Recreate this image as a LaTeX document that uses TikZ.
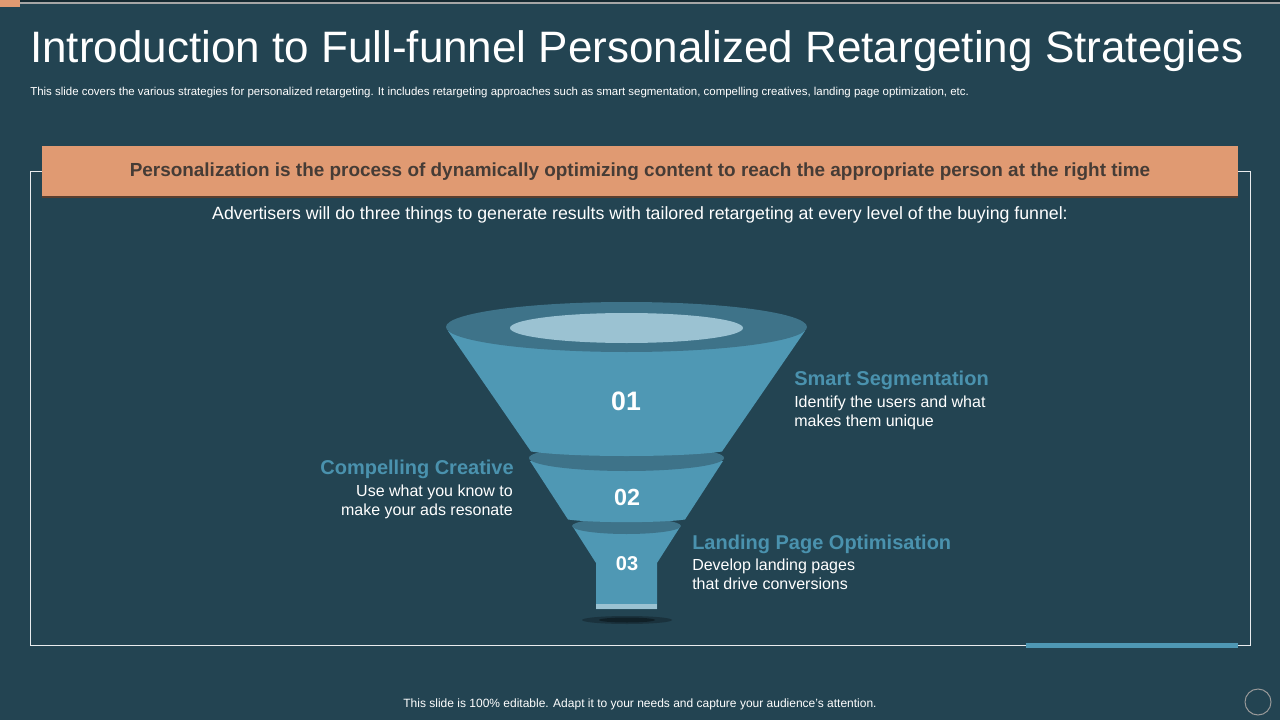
\documentclass[tikz,border=0pt]{standalone}
\usepackage{fontspec}
\setmainfont{Liberation Sans}
\definecolor{bg}{HTML}{234452}
\definecolor{body}{HTML}{4F98B4}
\definecolor{ring}{HTML}{3E7389}
\definecolor{pale}{HTML}{9BC2D2}
\definecolor{orange}{HTML}{E09A72}
\definecolor{bannertext}{HTML}{463C36}
\definecolor{heading}{HTML}{4A92AE}
\tikzset{
  txt/.style={inner sep=0pt,text=white,font=\fontsize{#1}{#1}\selectfont},
  num/.style={inner sep=0pt,text=white,font=\fontsize{#1}{#1}\selectfont\bfseries},
  head/.style={inner sep=0pt,text=heading,font=\fontsize{15}{15}\selectfont\bfseries},
  desc/.style={inner sep=0pt,text=white,font=\fontsize{12}{14.2}\selectfont,align=#1},
}
\begin{document}
\begin{tikzpicture}[x=0.75pt,y=-0.75pt]
\useasboundingbox (0,0) rectangle (1280,720);
\fill[bg] (0,0) rectangle (1280,720);
% top decoration
\fill[black!40!bg] (20,0) rectangle (1280,2.5);
\fill[gray!70!white] (20,2.5) rectangle (1280,4.5);
\fill[orange] (0,0) rectangle (20,7);
% frame
\draw[white!90!bg,line width=0.75pt] (30,172) rectangle (1250,645);
\fill[body] (1026,643) rectangle (1238,648);
% banner
\fill[black!60!orange] (42,146) rectangle (1238,198);
\fill[orange] (42,146) rectangle (1238,196.5);
% title and text
\node[txt=33,anchor=west] (title) at (30,51) {Introduction to Full-funnel Personalized Retargeting Strategies};
\node[txt=8.6,anchor=west] (sub) at (30,92.5) {This slide covers the various strategies for personalized retargeting. It includes retargeting approaches such as smart segmentation, compelling creatives, landing page optimization, etc.};
\node[inner sep=0pt,text=bannertext,font=\fontsize{14.2}{14.2}\selectfont\bfseries] (banner) at (640,172) {Personalization is the process of dynamically optimizing content to reach the appropriate person at the right time};
\node[txt=13.3] (lead) at (640,215) {Advertisers will do three things to generate results with tailored retargeting at every level of the buying funnel:};
% funnel
\fill[black,opacity=.25] (627,620) ellipse (45 and 4);
\fill[black,opacity=.35] (627,620) ellipse (28 and 2.5);
\fill[body] (573,527) -- (596,563) -- (596,609) -- (657,609) -- (657,563) -- (680,527) -- cycle;
\fill[pale] (596,604) rectangle (657,609);
\fill[ring] (626.5,526) ellipse (54.5 and 8);
\fill[body] (530,461) -- (568,519.5) .. controls (590,523) and (663,523) .. (685,519.5) -- (723,461) -- cycle;
\fill[ring] (626.5,458) ellipse (97.5 and 13);
\fill[body] (448,331) -- (531,451.5) .. controls (570,457.5) and (683,457.5) .. (722,451.5) -- (805,331) -- cycle;
\fill[ring] (626.5,327) ellipse (180.5 and 25);
\fill[pale] (626.5,328) ellipse (116.5 and 15);
\node[num=20] (n1) at (626,401) {01};
\node[num=17.5] (n2) at (627,497) {02};
\node[num=15] (n3) at (627,564) {03};
% labels
\node[head,anchor=west] (h1) at (794,380.5) {Smart Segmentation};
\node[desc=left,anchor=north west] (d1) at (794,396) {Identify the users and what\\makes them unique};
\node[head,anchor=east] (h2) at (514,469.5) {Compelling Creative};
\node[desc=right,anchor=north east] (d2) at (513,485) {Use what you know to\\make your ads resonate};
\node[head,anchor=west] (h3) at (692,544.5) {Landing Page Optimisation};
\node[desc=left,anchor=north west] (d3) at (692,559) {Develop landing pages\\that drive conversions};
% footer
\node[txt=9] (foot) at (640,704.5) {This slide is 100\% editable. Adapt it to your needs and capture your audience's attention.};
\draw[gray!80!white,line width=0.75pt] (1258,702) circle (13);
\end{tikzpicture}
\end{document}
